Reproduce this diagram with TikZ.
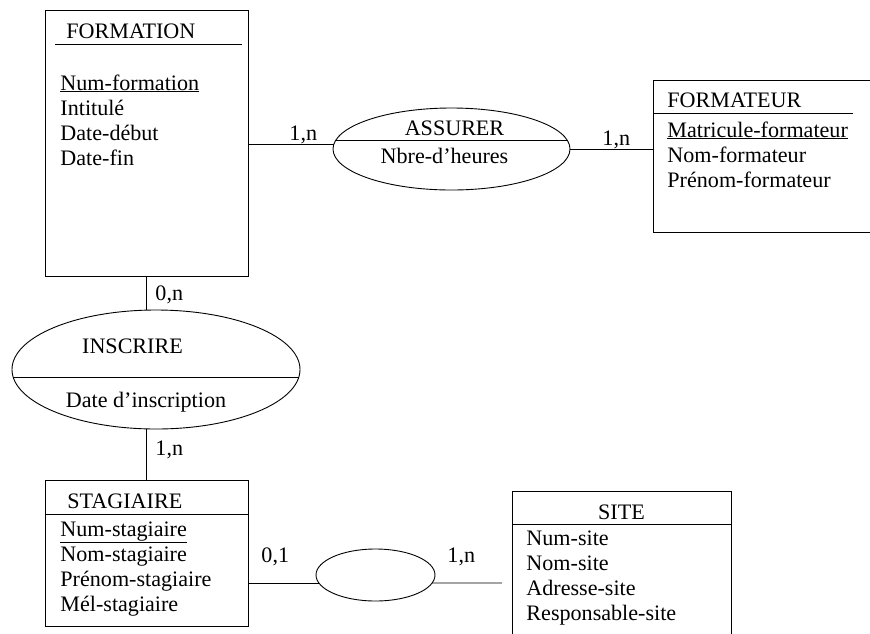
\documentclass[tikz,border=0pt]{standalone}
\usepackage{fontspec}
\setmainfont{Liberation Serif}
\usetikzlibrary{positioning}
\usetikzlibrary{shapes.geometric}

\begin{document}
\begin{tikzpicture}[x=1pt, y=-1pt, line width=0.9pt,
    entite/.style={draw, rectangle, anchor=north west, inner sep=0pt, outer sep=0pt},
    assoc/.style={draw, ellipse, inner sep=0pt, outer sep=0pt},
    texte/.style={anchor=base west, inner sep=0pt, font=\fontsize{22.1}{25}\selectfont},
    card/.style={texte}]

    \useasboundingbox (0,0) rectangle (870,633);
    \clip (0,0) rectangle (870,633);

    \node[entite, minimum width=203pt, minimum height=266pt] (formation) at (45,10) {};
    \draw (55,44) -- (242,44);
    \node[texte] (formation-titre) at (66,38) {FORMATION};
\foreach \attr [count=\i] in {\underline{Num-formation}, Intitulé, Date-début, Date-fin}
{
    \node[texte] (formation-\i) at (60,65+25*\i) {\attr};
}

    \node[entite, minimum width=260pt, minimum height=152pt] (formateur) at (653,80) {};
    \draw (653,113) -- (853,113);
    \node[texte] (formateur-titre) at (667,107) {FORMATEUR};
\foreach \attr [count=\i] in {\underline{Matricule-formateur}, Nom-formateur, Prénom-formateur}
{
    \node[texte] (formateur-\i) at (667,112+25*\i) {\attr};
}

    \node[entite, minimum width=203pt, minimum height=146pt] (stagiaire) at (45,480) {};
    \draw (45,514) -- (248,514);
    \node[texte] (stagiaire-titre) at (67,508) {STAGIAIRE};
\foreach \attr [count=\i] in {\underline{Num-stagiaire}, Nom-stagiaire, Prénom-stagiaire, Mél-stagiaire}
{
    \node[texte] (stagiaire-\i) at (60,511+25*\i) {\attr};
}

    \node[entite, minimum width=219pt, minimum height=170pt] (site) at (512,491) {};
    \draw (512,524) -- (731,524);
    \node[texte, anchor=base] (site-titre) at (621.5,519) {SITE};
\foreach \attr [count=\i] in {Num-site, Nom-site, Adresse-site, Responsable-site}
{
    \node[texte] (site-\i) at (526,520+25*\i) {\attr};
}

    \node[assoc, minimum width=237pt, minimum height=82pt] (assurer) at (451.5,149) {};
    \draw (assurer.176) -- (assurer.4);
    \node[texte, anchor=base] (assurer-nom) at (454.5,135) {ASSURER};
    \node[texte, anchor=base] (assurer-attr) at (444.5,163) {Nbre-d’heures};

    \node[assoc, minimum width=288pt, minimum height=119pt] (inscrire) at (156,369.5) {};
    \draw (inscrire.183.4) -- (inscrire.-3.4);
    \node[texte, anchor=base] (inscrire-nom) at (132.5,353) {INSCRIRE};
    \node[texte, anchor=base] (inscrire-attr) at (146,407) {Date d’inscription};

    \node[assoc, minimum width=119pt, minimum height=52pt] (lien-site) at (375.5,575) {};
    \coordinate (site-bout) at (502,583);

    \draw (formation.east |- assurer.178) -- (assurer.178);
    \draw (assurer.east) -- (assurer.east -| formateur.west);
    \draw (formation.south) -- (formation.south |- inscrire.north);
    \draw (inscrire.south -| stagiaire.north) -- (stagiaire.north);
    \draw (stagiaire.east |- lien-site.188) -- (lien-site.188);
    \draw (lien-site.-8) -- (site-bout);

    \node[card] (card-assurer-formation) at (289,140) {1,n};
    \node[card] (card-assurer-formateur) at (602,145) {1,n};
    \node[card] (card-inscrire-formation) at (155,300) {0,n};
    \node[card] (card-inscrire-stagiaire) at (155,455) {1,n};
    \node[card] (card-site-stagiaire) at (261,562) {0,1};
    \node[card] (card-site-site) at (447,562) {1,n};

\end{tikzpicture}
\end{document}
